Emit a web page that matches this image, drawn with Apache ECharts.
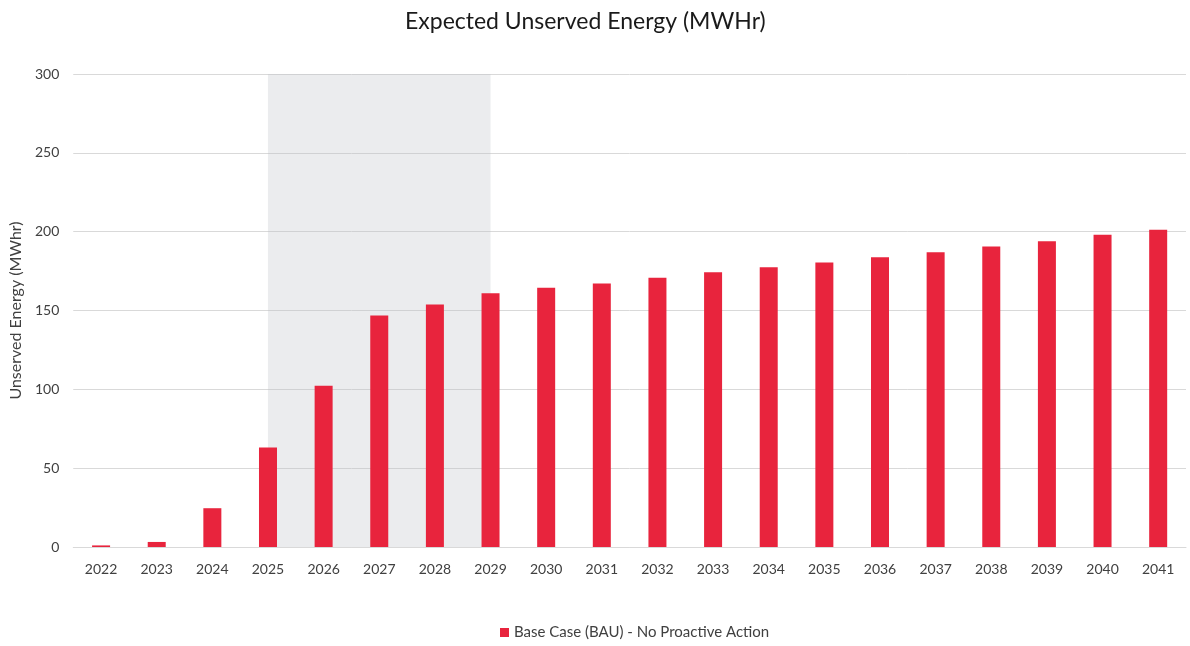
<!DOCTYPE html>
<html>
<head>
<meta charset="utf-8">
<script src="https://cdn.jsdelivr.net/npm/echarts@6/dist/echarts.min.js"></script>
<style>
  html, body { margin: 0; padding: 0; background: #fff; }
  #chart { width: 1190px; height: 646px; }
</style>
</head>
<body>
<div id="chart"></div>
<script>
// years on the x axis
const years = ['2022', '2023', '2024', '2025', '2026', '2027', '2028', '2029', '2030', '2031',
  '2032', '2033', '2034', '2035', '2036', '2037', '2038', '2039', '2040', '2041'];
// expected unserved energy, MWhr
const baseCase = [1, 3.2, 24.6, 63.1, 102.2, 146.9, 153.8, 161, 164.4, 167.2,
  170.7, 174.3, 177.5, 180.5, 183.7, 187, 190.6, 194, 198, 201.2];
// shaded period, from the middle of the first year to the middle of the last
const shadeRange = ['2025', '2029'];

const font = 'Lato, "Open Sans", sans-serif';
const myChart = echarts.init(document.getElementById('chart'), null, { renderer: 'canvas' });

myChart.setOption({
  animation: false,
  textStyle: { fontFamily: font },
  title: {
    text: 'Expected Unserved Energy (MWHr)',
    left: 400,
    top: 5,
    textStyle: { fontFamily: font, fontSize: 23, fontWeight: 'normal', color: '#1a1a1a' },
  },
  legend: {
    bottom: 1,
    left: 495,
    icon: 'rect',
    itemWidth: 9,
    itemHeight: 9,
    itemGap: 6,
    textStyle: { fontFamily: font, fontSize: 15, color: '#404040' },
    data: ['Base Case (BAU) - No Proactive Action'],
  },
  grid: {
    left: 72,
    right: 4,
    top: 74,
    bottom: 99,
    containLabel: false,
  },
  xAxis: [
    {
      type: 'category',
      data: years,
      axisTick: { show: false },
      axisLine: { lineStyle: { color: '#d9d9d9', width: 1 } },
      axisLabel: { fontFamily: font, fontSize: 14, color: '#404040', margin: 15 },
    },
    {
      // hidden value axis matching the category bands, used for the shaded area
      type: 'value',
      min: -0.5,
      max: years.length - 0.5,
      show: false,
    },
  ],
  yAxis: {
    type: 'value',
    min: 0,
    max: 300,
    interval: 50,
    name: 'Unserved Energy (MWhr)',
    nameLocation: 'middle',
    nameGap: 44,
    nameTextStyle: { fontFamily: font, fontSize: 16, color: '#404040' },
    axisLine: { show: false },
    axisTick: { show: false },
    axisLabel: { fontFamily: font, fontSize: 14, color: '#404040', margin: 14 },
    splitLine: { lineStyle: { color: '#d9d9d9', width: 1 } },
  },
  series: [
    {
      name: 'Base Case (BAU) - No Proactive Action',
      type: 'bar',
      data: baseCase,
      barWidth: 18,
      itemStyle: { color: '#e8243d' },
      z: 3,
    },
    {
      name: 'shade',
      type: 'line',
      xAxisIndex: 1,
      data: [],
      silent: true,
      markArea: {
        silent: true,
        itemStyle: { color: 'rgba(190, 192, 200, 0.3)' },
        data: [[
          { xAxis: years.indexOf(shadeRange[0]), yAxis: 0 },
          { xAxis: years.indexOf(shadeRange[1]), yAxis: 300 },
        ]],
      },
    },
  ],
});
</script>
</body>
</html>
